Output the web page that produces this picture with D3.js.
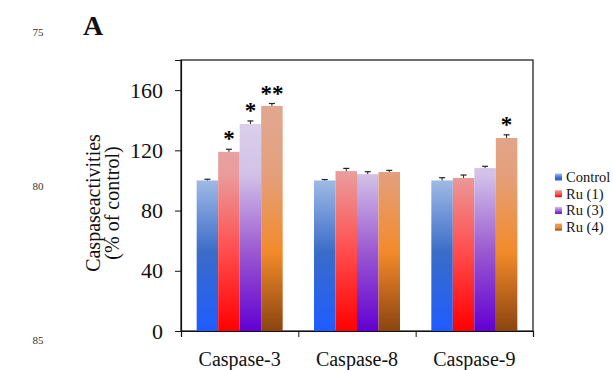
<!DOCTYPE html>
<html>
<head>
<meta charset="utf-8">
<script src="https://cdn.jsdelivr.net/npm/d3@7"></script>
<style>
  body { margin: 0; background: #fff; }
</style>
</head>
<body>
<div id="chart"></div>
<script>
// data
const groups = ["Caspase-3", "Caspase-8", "Caspase-9"];
const series = ["Control", "Ru (1)", "Ru (3)", "Ru (4)"];
const values = [
  [100, 119, 137.5, 149.5],
  [100, 106.2, 104.2, 105.6],
  [100, 101.6, 108.2, 128.2]
];
const errors = [
  [0.8, 1.7, 2, 1.6],
  [0.6, 1.8, 1.6, 1.1],
  [1.8, 2, 1.2, 2.1]
];
const stars = [
  ["", "*", "*", "**"],
  ["", "", "", ""],
  ["", "", "", "*"]
];
const yTicks = [0, 40, 80, 120, 160];
const lineNumbers = [["75", 32], ["80", 186], ["85", 340]];

// gradient colours: top, upper, middle, bottom
const palettes = [
  ["#c6d7ef", "#a9c1e8", "#3a6cc8", "#1f5cff"],
  ["#e8b4b2", "#ea9c9c", "#ff4c4c", "#ff0000"],
  ["#e4e0f0", "#d2c2e8", "#9a58d0", "#6200d2"],
  ["#ddac9f", "#e4a07c", "#f28a2a", "#8b4410"]
];

const serif = "'Liberation Serif', 'Times New Roman', serif";
const W = 613, H = 370;
const plot = {left: 181, right: 533, top: 60, bottom: 331};

const svg = d3.select("#chart").append("svg")
  .attr("width", W).attr("height", H)
  .style("font-family", serif);

const defs = svg.append("defs");
palettes.forEach(function(p, i) {
  const g = defs.append("linearGradient")
    .attr("id", "grad" + i)
    .attr("gradientUnits", "userSpaceOnUse")
    .attr("x1", 0).attr("x2", 0)
    .attr("y1", plot.top).attr("y2", plot.bottom);
  [[0, p[0]], [0.42, p[1]], [0.71, p[2]], [1, p[3]]].forEach(function(s) {
    g.append("stop").attr("offset", s[0]).attr("stop-color", s[1]);
  });
  const lg = defs.append("linearGradient")
    .attr("id", "legend" + i)
    .attr("x1", 0).attr("x2", 0).attr("y1", 0).attr("y2", 1);
  lg.append("stop").attr("offset", 0).attr("stop-color", p[1]);
  lg.append("stop").attr("offset", 0.6).attr("stop-color", p[2]);
  lg.append("stop").attr("offset", 1).attr("stop-color", p[3]);
});

const y = d3.scaleLinear().domain([0, 180]).range([plot.bottom, plot.top]);

const x = d3.scaleBand().domain(groups)
  .range([plot.left, plot.right])
  .paddingInner(0.267).paddingOuter(0.1335);

const xs = d3.scaleBand().domain(series).range([0, x.bandwidth()]);

// frame
svg.append("rect")
  .attr("x", plot.left).attr("y", plot.top)
  .attr("width", plot.right - plot.left).attr("height", plot.bottom - plot.top)
  .attr("fill", "none").attr("stroke", "#111").attr("stroke-width", 1.2);

// bars
groups.forEach(function(gname, gi) {
  const g = svg.append("g").attr("transform", "translate(" + x(gname) + ",0)");
  g.selectAll("rect.bar")
    .data(series)
    .enter().append("rect")
    .attr("class", "bar")
    .attr("x", d => xs(d))
    .attr("width", xs.bandwidth())
    .attr("y", (d, i) => y(values[gi][i]))
    .attr("height", (d, i) => y(0) - y(values[gi][i]))
    .attr("fill", (d, i) => "url(#grad" + i + ")");

  // error bars (upper only)
  series.forEach(function(s, i) {
    const cx = xs(s) + xs.bandwidth() / 2;
    const top = y(values[gi][i] + errors[gi][i]);
    g.append("line")
      .attr("x1", cx).attr("x2", cx)
      .attr("y1", y(values[gi][i])).attr("y2", top)
      .attr("stroke", "#222").attr("stroke-width", 1);
    g.append("line")
      .attr("x1", cx - 3).attr("x2", cx + 3)
      .attr("y1", top).attr("y2", top)
      .attr("stroke", "#222").attr("stroke-width", 1.2);
    if (stars[gi][i]) {
      g.append("text")
        .attr("x", cx).attr("y", top - 3)
        .attr("text-anchor", "middle")
        .attr("font-size", 23).attr("font-weight", "bold")
        .text(stars[gi][i]);
    }
  });
});

// y axis
const yAxis = svg.append("g")
  .attr("transform", "translate(" + plot.left + ",0)")
  .call(d3.axisLeft(y).tickValues(yTicks).tickSize(6).tickPadding(12));
yAxis.attr("font-family", null);
yAxis.select(".domain").attr("stroke", "#111").attr("stroke-width", 1.2);
yAxis.selectAll(".tick line").attr("stroke", "#111");
yAxis.selectAll(".tick text")
  .attr("font-size", 22).attr("fill", "#111")
  .style("font-family", serif);

// x axis: ticks at the band edges, labels at band centres
const xEdges = d3.scaleLinear().domain([0, groups.length]).range([plot.left, plot.right]);
const xAxis = svg.append("g")
  .attr("transform", "translate(0," + plot.bottom + ")")
  .call(d3.axisBottom(xEdges).ticks(groups.length).tickSize(6).tickFormat(""));
xAxis.select(".domain").attr("stroke", "#111").attr("stroke-width", 1.2);
xAxis.selectAll(".tick line").attr("stroke", "#111");

svg.selectAll("text.xlab")
  .data(groups)
  .enter().append("text")
  .attr("class", "xlab")
  .attr("x", d => x(d) + x.bandwidth() / 2)
  .attr("y", 366)
  .attr("text-anchor", "middle")
  .attr("font-size", 20).attr("fill", "#111")
  .text(d => d);

// y title
[["Caspaseactivities", 93], ["(% of control)", 112]].forEach(function(l) {
  svg.append("text")
    .attr("transform", "translate(" + l[1] + ",203) rotate(-90)")
    .attr("text-anchor", "middle")
    .attr("dominant-baseline", "central")
    .attr("font-size", 20).attr("fill", "#111")
    .text(l[0]);
});

// legend
const legend = svg.append("g").attr("transform", "translate(555,0)");
series.forEach(function(s, i) {
  const cy = 177 + i * 16.7;
  legend.append("rect")
    .attr("x", 0).attr("y", cy - 3.5)
    .attr("width", 7).attr("height", 7)
    .attr("fill", "url(#legend" + i + ")");
  legend.append("text")
    .attr("x", 11).attr("y", cy)
    .attr("dominant-baseline", "central")
    .attr("font-size", 14.5).attr("fill", "#111")
    .text(s);
});

// panel letter
svg.append("text")
  .attr("x", 83).attr("y", 35)
  .attr("font-size", 28).attr("font-weight", "bold").attr("fill", "#111")
  .text("A");

// line numbers in the margin
svg.selectAll("text.lineno")
  .data(lineNumbers)
  .enter().append("text")
  .attr("class", "lineno")
  .attr("x", 38).attr("y", d => d[1])
  .attr("text-anchor", "middle")
  .attr("dominant-baseline", "central")
  .attr("font-size", 11).attr("fill", "#333")
  .text(d => d[0]);
</script>
</body>
</html>
